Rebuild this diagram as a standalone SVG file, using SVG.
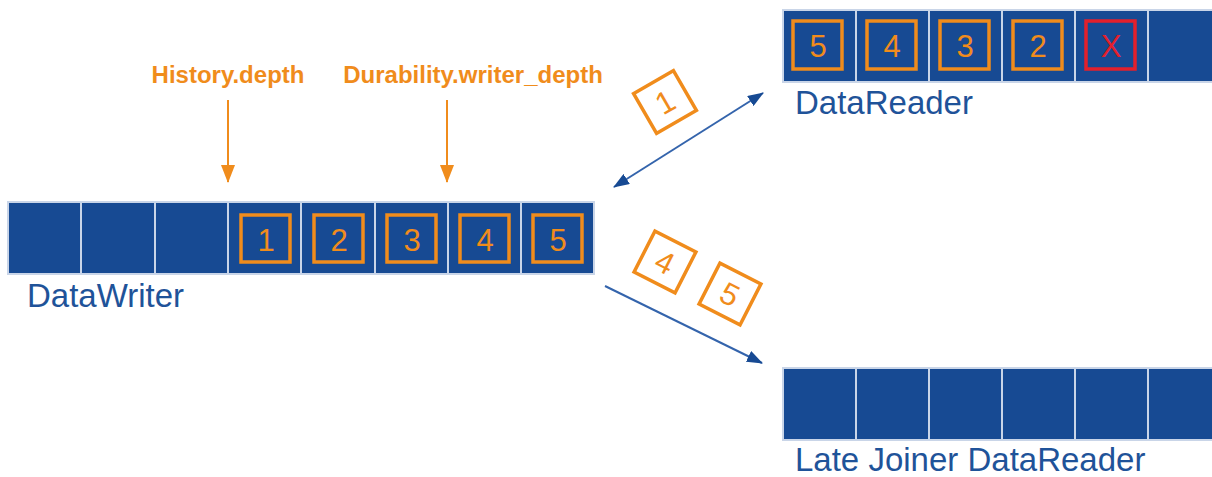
<svg xmlns="http://www.w3.org/2000/svg" width="1212" height="477" viewBox="0 0 1212 477">
<style>
.cell{fill:#174A93;stroke:#C9D5E8;stroke-width:2}
.ob{fill:none;stroke:#F08C1C;stroke-width:3.5}
.rb{fill:none;stroke:#E3202C;stroke-width:3.5}
.num{font-family:"Liberation Sans",Arial,sans-serif;font-size:31px;fill:#F08C1C;text-anchor:middle}
.lbl{font-family:"Liberation Sans",Arial,sans-serif;font-size:33px;fill:#1F5399}
.ql{font-family:"Liberation Sans",Arial,sans-serif;font-size:24px;font-weight:bold;fill:#F08C1C;text-anchor:middle}
.bl{stroke:#3464AC;stroke-width:2;fill:none}
.ol{stroke:#F08C1C;stroke-width:2;fill:none}
</style>
<defs>
<marker id="ab" markerWidth="16" markerHeight="12" refX="15" refY="6" orient="auto-start-reverse" markerUnits="userSpaceOnUse" viewBox="0 0 16 12"><path d="M0,0 L16,6 L0,12 Z" fill="#174A93"/></marker>
<marker id="ao" markerWidth="14" markerHeight="18" refX="7" refY="17" orient="0" markerUnits="userSpaceOnUse" viewBox="0 0 14 18"><path d="M0,0 L14,0 L7,18 Z" fill="#F08C1C"/></marker>
</defs>
<g id="writer">
<rect class="cell" x="8" y="202" width="73" height="72"/>
<rect class="cell" x="81" y="202" width="74" height="72"/>
<rect class="cell" x="155" y="202" width="73" height="72"/>
<rect class="cell" x="228" y="202" width="73" height="72"/>
<rect class="cell" x="301" y="202" width="74" height="72"/>
<rect class="cell" x="375" y="202" width="73" height="72"/>
<rect class="cell" x="448" y="202" width="73" height="72"/>
<rect class="cell" x="521" y="202" width="73" height="72"/>
<rect class="ob" x="241" y="215" width="49" height="47"/><text class="num" x="266" y="251">1</text>
<rect class="ob" x="314" y="215" width="49" height="47"/><text class="num" x="339" y="251">2</text>
<rect class="ob" x="387" y="215" width="49" height="47"/><text class="num" x="412" y="251">3</text>
<rect class="ob" x="460" y="215" width="49" height="47"/><text class="num" x="485" y="251">4</text>
<rect class="ob" x="533" y="215" width="49" height="47"/><text class="num" x="558" y="251">5</text>
<text class="lbl" x="27" y="307">DataWriter</text>
</g>
<g id="reader">
<rect class="cell" x="783" y="10" width="73" height="72"/>
<rect class="cell" x="856" y="10" width="73" height="72"/>
<rect class="cell" x="929" y="10" width="73" height="72"/>
<rect class="cell" x="1002" y="10" width="73" height="72"/>
<rect class="cell" x="1075" y="10" width="73" height="72"/>
<rect class="cell" x="1148" y="10" width="73" height="72"/>
<rect class="ob" x="793" y="21" width="49" height="48"/><text class="num" x="818" y="57">5</text>
<rect class="ob" x="867" y="21" width="49" height="48"/><text class="num" x="892" y="57">4</text>
<rect class="ob" x="940" y="21" width="49" height="48"/><text class="num" x="965" y="57">3</text>
<rect class="ob" x="1013" y="21" width="49" height="48"/><text class="num" x="1038" y="57">2</text>
<rect class="rb" x="1086" y="21" width="49" height="48"/><text class="num" x="1111" y="57" style="fill:#E3202C">X</text>
<text class="lbl" x="795" y="114">DataReader</text>
</g>
<g id="latejoiner">
<rect class="cell" x="783" y="368" width="73" height="72"/>
<rect class="cell" x="856" y="368" width="73" height="72"/>
<rect class="cell" x="929" y="368" width="73" height="72"/>
<rect class="cell" x="1002" y="368" width="73" height="72"/>
<rect class="cell" x="1075" y="368" width="73" height="72"/>
<rect class="cell" x="1148" y="368" width="73" height="72"/>
<text class="lbl" x="795" y="471">Late Joiner DataReader</text>
</g>
<g id="history">
<text class="ql" x="228" y="83">History.depth</text>
</g>
<g id="durability">
<text class="ql" x="473" y="83">Durability.writer_depth</text>
</g>
<g id="sample1" transform="translate(665,102) rotate(-30)">
<rect class="ob" x="-23" y="-23" width="46" height="46" style="fill:#fff"/><text class="num" x="0" y="11">1</text>
</g>
<g id="sample4" transform="translate(665,262) rotate(27)">
<rect class="ob" x="-23" y="-23" width="46" height="46" style="fill:#fff"/><text class="num" x="0" y="11">4</text>
</g>
<g id="sample5" transform="translate(730,294) rotate(27)">
<rect class="ob" x="-23" y="-23" width="46" height="46" style="fill:#fff"/><text class="num" x="0" y="11">5</text>
</g>
<g id="connectors">
<line class="ol" x1="228" y1="100" x2="228" y2="182" marker-end="url(#ao)"/>
<line class="ol" x1="447" y1="100" x2="447" y2="182" marker-end="url(#ao)"/>
<line class="bl" x1="614" y1="187" x2="763" y2="93" marker-start="url(#ab)" marker-end="url(#ab)"/>
<line class="bl" x1="605" y1="286" x2="762" y2="363" marker-end="url(#ab)"/>
</g>
</svg>
